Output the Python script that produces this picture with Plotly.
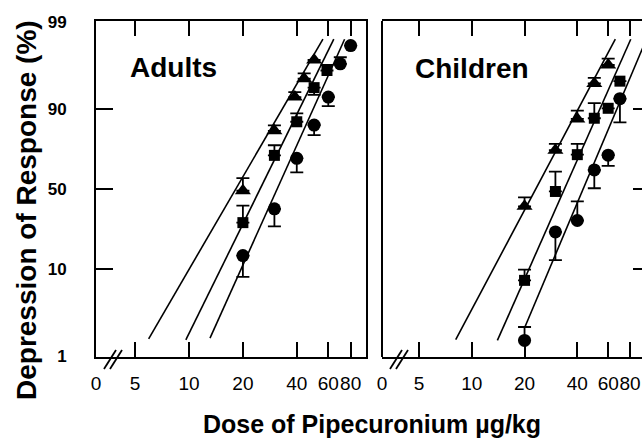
import math
import plotly.graph_objects as go

# ---------------- data ----------------
# Adults
adults_tri_dose = [20, 30, 39, 44, 50]
adults_tri_pct = [48.8, 83.2, 92.6, 95.4, 97.2]
adults_tri_err = [57.4, 85.2, 93.5, 96.0, None]      # end of error bar (%)

adults_sq_dose = [20, 30, 40, 50, 59]
adults_sq_pct = [28.4, 71.6, 86.4, 94.2, 96.3]
adults_sq_err = [38.8, 76.9, 88.9, 93.0, 96.8]

adults_circ_dose = [20, 30, 40, 50, 60, 70, 80]
adults_circ_pct = [13.8, 36.7, 69.9, 85.3, 92.6, 96.9, 98.1]
adults_circ_err = [8.2, 26.4, 61.2, 81.5, 90.7, 97.4, None]

adults_fit_tri_dose = [5.95, 56.0]
adults_fit_tri_pct = [1.6, 98.4]
adults_fit_sq_dose = [9.6, 64.4]
adults_fit_sq_pct = [1.55, 98.4]
adults_fit_circ_dose = [13.1, 74.0]
adults_fit_circ_pct = [1.63, 98.4]

# Children
children_tri_dose = [20, 30, 40, 50, 60]
children_tri_pct = [38.3, 74.4, 87.3, 94.8, 96.8]
children_tri_err = [44.2, 77.6, 89.6, 95.5, 97.3]

children_sq_dose = [20, 30, 40, 50, 60, 70]
children_sq_pct = [7.5, 48.3, 72.0, 87.5, 90.2, 95.1]
children_sq_err = [9.8, 61.7, 77.6, 91.4, None, None]

children_circ_dose = [20, 30, 40, 50, 60, 70]
children_circ_pct = [1.53, 23.5, 29.6, 62.8, 71.7, 92.3]
children_circ_err = [2.2, 12.4, 41.6, 50.5, 65.4, 86.2]

children_fit_tri_dose = [8.1, 65.9]
children_fit_tri_pct = [1.56, 98.4]
children_fit_sq_dose = [14.0, 80.7]
children_fit_sq_pct = [1.53, 98.4]
children_fit_circ_dose = [20.1, 99.0]
children_fit_circ_pct = [2.2, 98.4]

# axes
x_tick_doses = [5, 10, 20, 40, 60, 80]
x_tick_labels = ["5", "10", "20", "40", "60", "80"]
x_origin_label = "0"
y_tick_pcts = [1, 10, 50, 90, 99]
y_tick_labels = ["1", "10", "50", "90", "99"]
panel_titles = ["Adults", "Children"]
x_title = "Dose of Pipecuronium µg/kg"
y_title = "Depression of Response (%)"

# ---------------- helpers ----------------
W, H = 642, 442


def logit(p):
    q = p / 100.0
    return math.log(q / (1.0 - q))


def err_arrays(pcts, ends):
    plus, minus = [], []
    for p, e in zip(pcts, ends):
        if e is None:
            plus.append(0.0)
            minus.append(0.0)
        elif e >= p:
            plus.append(logit(e) - logit(p))
            minus.append(0.0)
        else:
            plus.append(0.0)
            minus.append(logit(p) - logit(e))
    return plus, minus


BLACK = "#000000"
fig = go.Figure()


def add_panel(xa, ya, fits, series):
    for d, p in fits:
        fig.add_trace(go.Scatter(
            x=d, y=[logit(v) for v in p], mode="lines",
            line=dict(color=BLACK, width=1.6),
            xaxis=xa, yaxis=ya, showlegend=False, hoverinfo="skip"))
    for d, p, e, sym, size in series:
        plus, minus = err_arrays(p, e)
        fig.add_trace(go.Scatter(
            x=d, y=[logit(v) for v in p], mode="markers",
            marker=dict(symbol=sym, size=size, color=BLACK, line=dict(width=0)),
            error_y=dict(type="data", symmetric=False, array=plus,
                         arrayminus=minus, color=BLACK, thickness=1.8, width=6.5),
            xaxis=xa, yaxis=ya, showlegend=False, cliponaxis=False))


add_panel("x", "y",
          [(adults_fit_tri_dose, adults_fit_tri_pct),
           (adults_fit_sq_dose, adults_fit_sq_pct),
           (adults_fit_circ_dose, adults_fit_circ_pct)],
          [(adults_tri_dose, adults_tri_pct, adults_tri_err, "triangle-up", 14),
           (adults_sq_dose, adults_sq_pct, adults_sq_err, "square", 11),
           (adults_circ_dose, adults_circ_pct, adults_circ_err, "circle", 13)])

add_panel("x2", "y2",
          [(children_fit_tri_dose, children_fit_tri_pct),
           (children_fit_sq_dose, children_fit_sq_pct),
           (children_fit_circ_dose, children_fit_circ_pct)],
          [(children_tri_dose, children_tri_pct, children_tri_err, "triangle-up", 14),
           (children_sq_dose, children_sq_pct, children_sq_err, "square", 11),
           (children_circ_dose, children_circ_pct, children_circ_err, "circle", 13)])

# ---------------- layout ----------------
ydom = [1 - 357 / H, 1 - 21 / H]
x1dom = [96 / W, 366 / W]
x2dom = [382 / W, 1.0]
x1range = [0.4804, 1.9888]
x2range = [0.488, 1.971]
yrange = [-4.62, 4.62]

SANS = "Liberation Sans, Arial, Helvetica, sans-serif"
tick_font_x = dict(family=SANS, size=19, color=BLACK)
tick_font_y = dict(family=SANS, size=17, color=BLACK, weight=700)


def xaxis(dom, rng, anchor):
    return dict(type="log", domain=dom, range=rng, anchor=anchor,
                tickmode="array",
                tickvals=[10 ** (rng[0] + 0.0005)] + x_tick_doses,
                ticktext=[x_origin_label] + x_tick_labels,
                tickangle=0, ticklabeloverflow="allow",
                ticks="inside", ticklen=15, tickwidth=2, tickcolor=BLACK,
                showline=True, linewidth=2, linecolor=BLACK, mirror="ticks",
                showgrid=False, zeroline=False, tickfont=tick_font_x,
                ticklabelstandoff=8, automargin=False, fixedrange=True)


fig.update_layout(
    width=W, height=H,
    margin=dict(l=0, r=0, t=0, b=0, autoexpand=False),
    paper_bgcolor="white", plot_bgcolor="white",
    xaxis=xaxis(x1dom, x1range, "y"),
    xaxis2=xaxis(x2dom, x2range, "y2"),
    yaxis=dict(domain=ydom, range=yrange, anchor="x",
               tickmode="array", tickvals=[logit(v) for v in y_tick_pcts],
               ticktext=y_tick_labels, ticks="inside", ticklen=17, tickwidth=2,
               tickcolor=BLACK, showline=True, linewidth=2, linecolor=BLACK,
               mirror=True, showgrid=False, zeroline=False,
               tickfont=tick_font_y, ticklabelstandoff=24,
               ticklabeloverflow="allow", automargin=False, fixedrange=True),
    yaxis2=dict(domain=ydom, range=yrange, anchor="x2", side="right",
                tickmode="array", tickvals=[logit(v) for v in y_tick_pcts],
                showticklabels=False, ticks="inside", ticklen=9, tickwidth=2,
                tickcolor=BLACK, showline=False, showgrid=False, zeroline=False,
                automargin=False, fixedrange=True),
)

shapes = [dict(type="line", xref="x2 domain", yref="y2 domain",
               x0=0, x1=0, y0=0, y1=1, line=dict(color=BLACK, width=2))]
# axis-break marks "//"
for xref, yref, wpx in (("x domain", "y domain", 270), ("x2 domain", "y2 domain", 260)):
    hpx = 336
    for off in (8, 14):
        shapes.append(dict(type="line", xref=xref, yref=yref,
                           x0=off / wpx, y0=-12 / hpx,
                           x1=(off + 12) / wpx, y1=7 / hpx,
                           line=dict(color=BLACK, width=1.8)))
fig.update_layout(shapes=shapes)

title_font = dict(family=SANS, color=BLACK, weight=700)
annotations = [
    dict(text=panel_titles[0], xref="paper", yref="paper", x=128 / W, y=1 - 67 / H,
         xanchor="left", yanchor="middle", showarrow=False, font=dict(title_font, size=28)),
    dict(text=panel_titles[1], xref="paper", yref="paper", x=413 / W, y=1 - 68 / H,
         xanchor="left", yanchor="middle", showarrow=False, font=dict(title_font, size=28)),
    dict(text=x_title, xref="paper", yref="paper", x=372 / W, y=1 - 424 / H,
         xanchor="center", yanchor="middle", showarrow=False, font=dict(title_font, size=25)),
    dict(text=y_title, xref="paper", yref="paper", x=26 / W, y=1 - 210 / H,
         xanchor="center", yanchor="middle", textangle=-90, showarrow=False,
         font=dict(title_font, size=28)),
]
fig.update_layout(annotations=annotations)

fig.write_html("out.html", config={"displayModeBar": False},
               post_script="document.body.style.margin='0';document.body.style.overflow='hidden';")
